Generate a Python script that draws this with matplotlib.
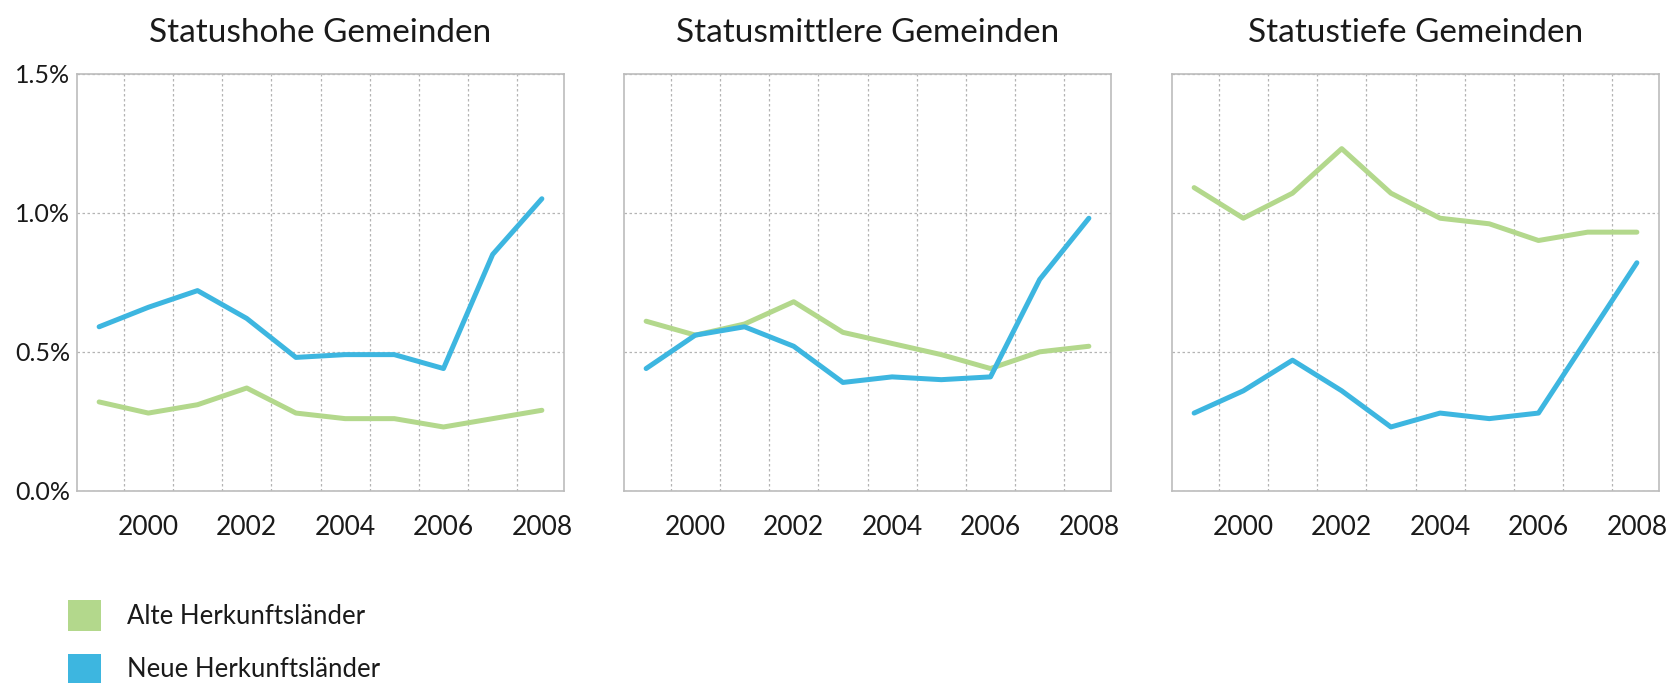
import matplotlib
matplotlib.use("Agg")
import matplotlib.pyplot as plt
from matplotlib.patches import Patch
from matplotlib.ticker import FixedLocator, FuncFormatter

# --- data (share in %) ---
years = [1999, 2000, 2001, 2002, 2003, 2004, 2005, 2006, 2007, 2008]
titles = ["Statushohe Gemeinden", "Statusmittlere Gemeinden", "Statustiefe Gemeinden"]
series_names = ["Alte Herkunftsländer", "Neue Herkunftsländer"]

alte_hoch = [0.32, 0.28, 0.31, 0.37, 0.28, 0.26, 0.26, 0.23, 0.26, 0.29]
neue_hoch = [0.59, 0.66, 0.72, 0.62, 0.48, 0.49, 0.49, 0.44, 0.85, 1.05]
alte_mittel = [0.61, 0.56, 0.60, 0.68, 0.57, 0.53, 0.49, 0.44, 0.50, 0.52]
neue_mittel = [0.44, 0.56, 0.59, 0.52, 0.39, 0.41, 0.40, 0.41, 0.76, 0.98]
alte_tief = [1.09, 0.98, 1.07, 1.23, 1.07, 0.98, 0.96, 0.90, 0.93, 0.93]
neue_tief = [0.28, 0.36, 0.47, 0.36, 0.23, 0.28, 0.26, 0.28, 0.55, 0.82]

year_ticks = [2000, 2002, 2004, 2006, 2008]
grid_years = [1999.5, 2000.5, 2001.5, 2002.5, 2003.5, 2004.5, 2005.5, 2006.5, 2007.5]
y_ticks = [0.0, 0.5, 1.0, 1.5]

GREEN = "#b3d88c"
BLUE = "#3db6e0"
GRID = "#b4b4b4"
SPINE = "#bcbcbc"
TEXT = "#1a1a1a"

plt.rcParams["font.family"] = ["Lato", "DejaVu Sans"]

W, H = 1675, 683
fig = plt.figure(figsize=(W / 100, H / 100), dpi=100)

panels = [(alte_hoch, neue_hoch), (alte_mittel, neue_mittel), (alte_tief, neue_tief)]
lefts = [77, 624, 1172]   # axes left edges in pixels
ax_w, top, bottom = 487, 73.5, 491

for i, (alte, neue) in enumerate(panels):
    ax = fig.add_axes([lefts[i] / W, 1 - bottom / H, ax_w / W, (bottom - top) / H])
    ax.plot(years, alte, color=GREEN, lw=3.6, solid_capstyle="round", solid_joinstyle="round", zorder=3)
    ax.plot(years, neue, color=BLUE, lw=3.6, solid_capstyle="round", solid_joinstyle="round", zorder=4)

    ax.set_xlim(1998.55, 2008.45)
    ax.set_ylim(0, 1.5)
    ax.xaxis.set_major_locator(FixedLocator(year_ticks))
    ax.xaxis.set_minor_locator(FixedLocator(grid_years))
    ax.yaxis.set_major_locator(FixedLocator(y_ticks))
    ax.yaxis.set_major_formatter(FuncFormatter(lambda v, _: f"{v:.1f}%"))

    ax.grid(which="minor", axis="x", color=GRID, lw=0.9, ls=(0, (2, 2)))
    ax.grid(which="major", axis="y", color=GRID, lw=0.9, ls=(0, (2, 2)))
    ax.grid(which="major", axis="x", visible=False)
    ax.set_axisbelow(True)

    ax.tick_params(which="both", length=0)
    ax.tick_params(axis="x", labelsize=19, pad=17, colors=TEXT)
    ax.tick_params(axis="y", labelsize=18, pad=5, colors=TEXT)
    if i > 0:
        ax.tick_params(axis="y", labelleft=False)

    for sp in ax.spines.values():
        sp.set_color(SPINE)
        sp.set_linewidth(1.2)

    # reference uses a condensed face; Lato a bit smaller keeps the width close
    ax.set_title(titles[i], fontsize=24, color=TEXT, pad=23)

handles = [Patch(facecolor=GREEN, edgecolor="none"), Patch(facecolor=BLUE, edgecolor="none")]
fig.legend(handles, series_names, loc="upper left",
           bbox_to_anchor=(68 / W, 1 - 600 / H), frameon=False,
           fontsize=18.5, handlelength=1.3, handleheight=1.45,
           handletextpad=1.0, labelspacing=0.9, borderpad=0, borderaxespad=0,
           labelcolor=TEXT)

fig.savefig("out.png", dpi=100)
